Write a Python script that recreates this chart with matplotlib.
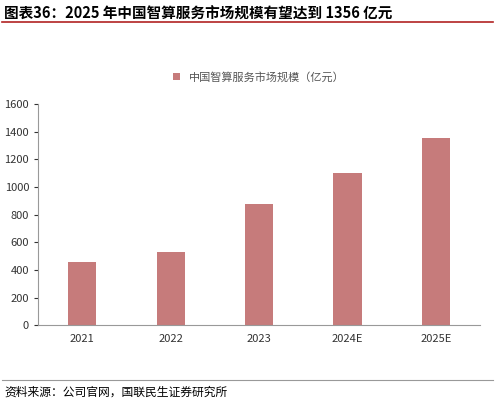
import matplotlib.pyplot as plt
from matplotlib.lines import Line2D

plt.rcParams['font.family'] = ['Noto Sans CJK SC', 'DejaVu Sans']

years = ['2021', '2022', '2023', '2024E', '2025E']
values = [456, 529, 876, 1100, 1356]
bar_color = '#C67B7B'

fig = plt.figure(figsize=(4.95, 4.04), dpi=100)
ax = fig.add_axes([0.077, 0.195, 0.893, 0.548])
ax.bar(years, values, width=0.32, color=bar_color, label='中国智算服务市场规模（亿元）')
ax.set_ylim(0, 1600)
ax.set_yticks(range(0, 1601, 200))
ax.set_xlim(-0.5, 4.5)
for s in ['top', 'right']:
    ax.spines[s].set_visible(False)
for s in ['left', 'bottom']:
    ax.spines[s].set_color('#999999')
ax.tick_params(labelsize=8, colors='#333333', length=3)
ax.tick_params(axis='x', length=0, pad=6)
ax.legend(loc='lower center', bbox_to_anchor=(0.5, 1.05), frameon=False,
          fontsize=8, handlelength=0.6, handleheight=0.6, labelcolor='#555555')

fig.text(0.008, 0.966, '图表36：2025 年中国智算服务市场规模有望达到 1356 亿元',
         fontsize=10.5, fontweight='bold', va='center')
fig.add_artist(Line2D([0.005, 0.995], [0.945, 0.945], color='#B22222', lw=1.2))
fig.add_artist(Line2D([0.005, 0.995], [0.06, 0.06], color='#999999', lw=0.8))
fig.text(0.008, 0.03, '资料来源：公司官网，国联民生证券研究所', fontsize=8.5, va='center')

fig.savefig('out.png', dpi=100)
